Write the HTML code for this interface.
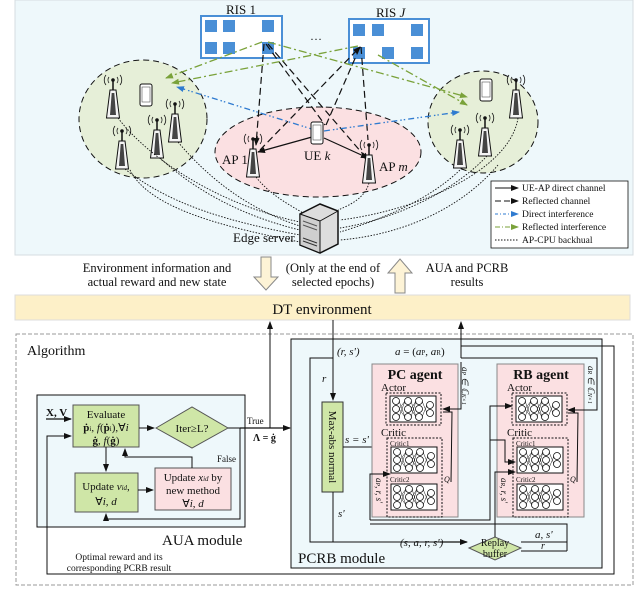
<!DOCTYPE html>
<html><head><meta charset="utf-8"><style>
html,body{margin:0;padding:0;background:#fff}
svg{display:block}
text{font-family:"Liberation Serif",serif;fill:#111}
</style></head><body>
<svg width="640" height="603" viewBox="0 0 640 603" xmlns="http://www.w3.org/2000/svg">
<defs>
<marker id="ah" markerWidth="8" markerHeight="8" refX="7" refY="4" orient="auto" markerUnits="userSpaceOnUse"><path d="M0,1 L8,4 L0,7 Z" fill="#111"/></marker>
<marker id="ab" markerWidth="8" markerHeight="8" refX="7" refY="4" orient="auto" markerUnits="userSpaceOnUse"><path d="M0,1 L8,4 L0,7 Z" fill="#2f7bd0"/></marker>
<marker id="ag" markerWidth="8" markerHeight="8" refX="7" refY="4" orient="auto" markerUnits="userSpaceOnUse"><path d="M0,1 L8,4 L0,7 Z" fill="#7aa23a"/></marker>
<g id="nn">
<rect x="0" y="0" width="46" height="26" fill="#fff" stroke="#111" stroke-width="1"/>
<g fill="#fff" stroke="#111" stroke-width="0.8">
<circle cx="6" cy="5" r="3.5"/><circle cx="6" cy="13" r="3.5"/><circle cx="6" cy="21" r="3.5"/>
<circle cx="18" cy="5" r="3.5"/><circle cx="18" cy="13" r="3.5"/><circle cx="18" cy="21" r="3.5"/>
<circle cx="29" cy="5" r="3.5"/><circle cx="29" cy="13" r="3.5"/><circle cx="29" cy="21" r="3.5"/>
<circle cx="40" cy="9" r="3.5"/><circle cx="40" cy="17" r="3.5"/>
</g>
<path d="M9,5 L15,21 M9,21 L15,5 M9,13 L15,5 M9,13 L15,21 M21,5 L26,21 M21,21 L26,5 M21,13 L26,5 M21,13 L26,21 M32,5 L37,17 M32,21 L37,9" stroke="#111" stroke-width="0.5"/>
</g>
<g id="ant">
<path d="M-6.5,0 L-3,-28 L3,-28 L6.5,0 Z" fill="#f4f4f4" stroke="#111" stroke-width="1"/>
<path d="M-3,-3 L-1.3,-25 L1.3,-25 L3,-3 Z" fill="#444"/>
<line x1="0" y1="-28" x2="0" y2="-38" stroke="#111" stroke-width="1.5"/>
<circle cx="0" cy="-38" r="1.8" fill="#111"/>
<path d="M-4,-41 A5,5 0 0 0 -4,-35 M4,-41 A5,5 0 0 1 4,-35 M-7,-43 A8,8 0 0 0 -7,-33 M7,-43 A8,8 0 0 1 7,-33" fill="none" stroke="#111" stroke-width="0.8"/>
</g>
<g id="phone">
<rect x="-6" y="-11" width="12" height="22" rx="2" fill="#fff" stroke="#111" stroke-width="1"/>
<rect x="-4" y="-8" width="8" height="15" fill="#fff" stroke="#555" stroke-width="0.6"/>
</g>
</defs>

<!-- top panel -->
<rect x="15" y="0" width="618" height="255" fill="#eef8fb" stroke="#d6dde0"/>
<ellipse cx="143" cy="119" rx="64" ry="59" fill="#e6efd8" stroke="#111" stroke-dasharray="6,4"/>
<ellipse cx="483" cy="122" rx="55" ry="51" fill="#e6efd8" stroke="#111" stroke-dasharray="6,4"/>
<ellipse cx="318" cy="152" rx="103" ry="45" fill="#fbe0e2" stroke="#111" stroke-dasharray="6,4"/>

<!-- RIS -->
<rect x="201" y="16" width="81" height="42" fill="#fff" stroke="#4a8fd6" stroke-width="2"/>
<rect x="205" y="20" width="12" height="12" fill="#4a8fd6"/><rect x="223" y="20" width="12" height="12" fill="#4a8fd6"/><rect x="262" y="20" width="12" height="12" fill="#4a8fd6"/>
<rect x="205" y="42" width="12" height="12" fill="#4a8fd6"/><rect x="223" y="42" width="12" height="12" fill="#4a8fd6"/><rect x="262" y="42" width="12" height="12" fill="#4a8fd6"/>
<text x="226" y="14" font-size="13">RIS 1</text>
<rect x="349" y="19" width="80" height="44" fill="#fff" stroke="#4a8fd6" stroke-width="2"/>
<rect x="353" y="24" width="12" height="12" fill="#4a8fd6"/><rect x="372" y="24" width="12" height="12" fill="#4a8fd6"/><rect x="411" y="24" width="12" height="12" fill="#4a8fd6"/>
<rect x="353" y="47" width="12" height="12" fill="#4a8fd6"/><rect x="382" y="47" width="12" height="12" fill="#4a8fd6"/><rect x="411" y="47" width="12" height="12" fill="#4a8fd6"/>
<text x="376" y="17" font-size="13">RIS <tspan font-style="italic">J</tspan></text>
<text x="310" y="40" font-size="12">…</text>

<!-- channels -->
<g stroke="#111" stroke-width="1.2" stroke-dasharray="7,4" fill="none">
<line x1="264" y1="44" x2="256" y2="145" marker-end="url(#ah)"/>
<line x1="266" y1="44" x2="325" y2="125"/>
<line x1="268" y1="44" x2="368" y2="160" marker-end="url(#ah)"/>
<line x1="260" y1="150" x2="360" y2="47" marker-end="url(#ah)"/>
<line x1="326" y1="125" x2="360" y2="47"/>
<line x1="361" y1="47" x2="368" y2="140"/>
</g>
<g stroke="#111" stroke-width="1.2" fill="none">
<line x1="312" y1="137" x2="258" y2="152" marker-end="url(#ah)"/>
<line x1="324" y1="138" x2="368" y2="158" marker-end="url(#ah)"/>
</g>
<g stroke="#7aa23a" stroke-width="1.3" stroke-dasharray="8,3,2,3" fill="none">
<line x1="262" y1="42" x2="166" y2="78" marker-end="url(#ag)"/>
<line x1="358" y1="46" x2="172" y2="83" marker-end="url(#ag)"/>
<line x1="268" y1="42" x2="467" y2="97" marker-end="url(#ag)"/>
<line x1="378" y1="55" x2="467" y2="105" marker-end="url(#ag)"/>
</g>
<g stroke="#2f7bd0" stroke-width="1.3" stroke-dasharray="6,3,1.5,2,1.5,3" fill="none">
<line x1="315" y1="130" x2="177" y2="87" marker-end="url(#ab)"/>
<line x1="324" y1="131" x2="459" y2="112" marker-end="url(#ab)"/>
</g>

<!-- antennas & phones -->
<use href="#ant" x="113" y="118"/><use href="#ant" x="122" y="169"/><use href="#ant" x="157" y="158"/><use href="#ant" x="175" y="142"/>
<use href="#phone" x="146" y="95"/>
<use href="#ant" x="516" y="118"/><use href="#ant" x="460" y="168"/><use href="#ant" x="485" y="156"/>
<use href="#phone" x="486" y="90"/>
<use href="#ant" x="253" y="177"/><use href="#ant" x="369" y="183"/>
<use href="#phone" x="317" y="133"/>
<text x="222" y="164" font-size="13">AP 1</text>
<text x="304" y="160" font-size="13">UE <tspan font-style="italic">k</tspan></text>
<text x="379" y="171" font-size="13">AP <tspan font-style="italic">m</tspan></text>

<!-- backhaul -->
<g stroke="#111" stroke-width="0.9" stroke-dasharray="1.5,1.5" fill="none">
<path d="M118,118 C150,160 220,205 300,222"/>
<path d="M125,169 C170,205 230,222 300,235"/>
<path d="M160,158 C200,195 250,218 300,230"/>
<path d="M178,142 C210,180 250,210 300,226"/>
<path d="M130,170 C150,210 230,228 300,242"/>
<path d="M256,177 C270,195 290,205 303,213"/>
<path d="M369,183 C365,198 350,205 338,210"/>
<path d="M518,118 C510,170 420,210 340,220"/>
<path d="M462,168 C430,200 380,220 340,232"/>
<path d="M487,156 C450,195 390,220 340,228"/>
<path d="M498,165 C460,210 400,235 340,240"/>
</g>

<!-- server -->
<g transform="translate(300,204)">
<path d="M0,10 L20,0 L38,7 L38,40 L20,49 L0,41 Z" fill="#ddd" stroke="#111" stroke-width="1.5"/>
<path d="M0,10 L20,17 L20,49 L0,41 Z" fill="#cfcfcf" stroke="#111"/>
<path d="M20,17 L38,7" stroke="#111"/>
<path d="M3,17 L17,22 M3,21 L17,26" stroke="#555"/>
<path d="M3,34 L17,39 M3,37 L17,42" stroke="#333"/>
</g>
<text x="233" y="242" font-size="13">Edge server</text>

<!-- legend -->
<rect x="491" y="181" width="137" height="67" fill="#fff" stroke="#111" stroke-width="0.8"/>
<g font-size="9.5">
<line x1="495" y1="188" x2="518" y2="188" stroke="#111" marker-end="url(#ah)"/><text x="522" y="191">UE-AP direct channel</text>
<line x1="495" y1="201" x2="518" y2="201" stroke="#111" stroke-dasharray="6,3" marker-end="url(#ah)"/><text x="522" y="204">Reflected channel</text>
<line x1="495" y1="214" x2="518" y2="214" stroke="#2f7bd0" stroke-dasharray="3,2,1,2" marker-end="url(#ab)"/><text x="522" y="217">Direct interference</text>
<line x1="495" y1="227" x2="518" y2="227" stroke="#7aa23a" stroke-dasharray="5,2,1,2" marker-end="url(#ag)"/><text x="522" y="230">Reflected interference</text>
<line x1="495" y1="240" x2="518" y2="240" stroke="#111" stroke-dasharray="1.5,1.5"/><text x="522" y="243">AP-CPU backhual</text>
</g>

<!-- middle -->
<text x="157" y="272" font-size="12.5" text-anchor="middle">Environment information and</text>
<text x="157" y="286" font-size="12.5" text-anchor="middle">actual reward and new state</text>
<path d="M261,257 L271,257 L271,277 L278,277 L266,290 L254,277 L261,277 Z" fill="#fdf3d6" stroke="#888"/>
<text x="333" y="272" font-size="12.5" text-anchor="middle">(Only at the end of</text>
<text x="333" y="286" font-size="12.5" text-anchor="middle">selected epochs)</text>
<path d="M395,293 L405,293 L405,273 L412,273 L400,259 L388,273 L395,273 Z" fill="#fdf3d6" stroke="#888"/>
<text x="467" y="272" font-size="12.5" text-anchor="middle">AUA and PCRB</text>
<text x="467" y="286" font-size="12.5" text-anchor="middle">results</text>
<rect x="15" y="295" width="615" height="25" fill="#fdf0c8" stroke="#ddd"/>
<text x="322" y="314" font-size="15" text-anchor="middle">DT environment</text>

<!-- algorithm -->
<rect x="16" y="334" width="617" height="251" fill="none" stroke="#999" stroke-dasharray="4,2"/>
<text x="27" y="355" font-size="14">Algorithm</text>

<!-- AUA -->
<rect x="37" y="395" width="208" height="132" fill="#eef8fb" stroke="#111"/>
<text x="162" y="545" font-size="15">AUA module</text>
<rect x="73" y="405" width="66" height="42" fill="#cfe6a7" stroke="#555"/>
<text x="106" y="418" font-size="11" text-anchor="middle">Evaluate</text>
<text x="106" y="431" font-size="11" text-anchor="middle"><tspan font-weight="bold">ṗ</tspan><tspan font-size="7">i</tspan>, <tspan font-style="italic">f</tspan>(<tspan font-weight="bold">ṗ</tspan><tspan font-size="7">i</tspan>),∀<tspan font-style="italic">i</tspan></text>
<text x="106" y="444" font-size="11" text-anchor="middle"><tspan font-weight="bold">ġ</tspan>, <tspan font-style="italic">f</tspan>(<tspan font-weight="bold">ġ</tspan>)</text>
<text x="46" y="416" font-size="11" font-weight="bold">X, V</text>
<line x1="46" y1="419" x2="71" y2="419" stroke="#111" stroke-width="1.2" marker-end="url(#ah)"/>
<path d="M156,428 L192,407 L228,428 L192,448 Z" fill="#cfe6a7" stroke="#555"/>
<text x="192" y="432" font-size="11" text-anchor="middle">Iter≥L?</text>
<line x1="139" y1="428" x2="154" y2="428" stroke="#111" marker-end="url(#ah)"/>
<rect x="75" y="473" width="63" height="39" fill="#cfe6a7" stroke="#555"/>
<text x="106" y="490" font-size="11" text-anchor="middle">Update <tspan font-style="italic">v</tspan><tspan font-size="7" font-style="italic">id</tspan>,</text>
<text x="106" y="505" font-size="11" text-anchor="middle">∀<tspan font-style="italic">i</tspan>, <tspan font-style="italic">d</tspan></text>
<rect x="155" y="468" width="76" height="42" fill="#fbe0e2" stroke="#555"/>
<text x="193" y="481" font-size="11" text-anchor="middle">Update <tspan font-style="italic">x</tspan><tspan font-size="7" font-style="italic">id</tspan> by</text>
<text x="193" y="494" font-size="11" text-anchor="middle">new method</text>
<text x="193" y="507" font-size="11" text-anchor="middle">∀<tspan font-style="italic">i</tspan>, <tspan font-style="italic">d</tspan></text>
<line x1="106" y1="447" x2="106" y2="471" stroke="#111" marker-end="url(#ah)"/>
<line x1="138" y1="490" x2="153" y2="490" stroke="#111" marker-end="url(#ah)"/>
<path d="M192,468 L192,457 L125,457 L125,449" fill="none" stroke="#111" marker-end="url(#ah)"/>
<path d="M228,428 L240,428 L240,519 L106,519 L106,514" fill="none" stroke="#111" marker-end="url(#ah)"/>
<text x="217" y="462" font-size="9">False</text>
<text x="247" y="424" font-size="9">True</text>
<text x="253" y="441" font-size="10" font-weight="bold">Λ = ġ</text>
<line x1="240" y1="428" x2="290" y2="428" stroke="#111" stroke-width="1.2" marker-end="url(#ah)"/>
<line x1="270" y1="428" x2="270" y2="322" stroke="#111" marker-end="url(#ah)"/>
<path d="M293,574 L47,574 L47,436 L71,436" fill="none" stroke="#111" marker-end="url(#ah)"/>
<text x="119" y="560" font-size="9.5" text-anchor="middle">Optimal reward and its</text>
<text x="119" y="571" font-size="9.5" text-anchor="middle">corresponding PCRB result</text>

<!-- PCRB -->
<rect x="291" y="339" width="311" height="229" fill="#eef8fb" stroke="#111"/>
<path d="M461,346 L614,346 L614,574 L291,574" fill="none" stroke="#111"/>
<text x="298" y="563" font-size="15">PCRB module</text>
<line x1="333" y1="320" x2="333" y2="400" stroke="#111" marker-end="url(#ah)"/>
<line x1="461" y1="358" x2="461" y2="322" stroke="#111" marker-end="url(#ah)"/>
<text x="337" y="355" font-size="11" font-style="italic">(r, s')</text>
<text x="395" y="355" font-size="11"><tspan font-style="italic">a</tspan> = (<tspan font-style="italic">a</tspan><tspan font-size="7">P</tspan>, <tspan font-style="italic">a</tspan><tspan font-size="7">R</tspan>)</text>
<text x="322" y="382" font-size="11" font-style="italic">r</text>
<path d="M333,358 L310,358 L310,542 L464,542" fill="none" stroke="#111"/>
<rect x="322" y="402" width="21" height="90" fill="#cfe6a7" stroke="#333"/>
<text transform="translate(329,447) rotate(90)" font-size="11" text-anchor="middle">Max-abs normal</text>
<line x1="333" y1="492" x2="333" y2="542" stroke="#111"/>
<text x="338" y="517" font-size="11" font-style="italic">s'</text>
<text x="345" y="443" font-size="11" font-style="italic">s = s'</text>
<path d="M343,447 L376,447" fill="none" stroke="#111"/>
<path d="M376,447 L376,410 L386,410" fill="none" stroke="#111" marker-end="url(#ah)"/>
<path d="M376,447 L376,462 L390,462" fill="none" stroke="#111" marker-end="url(#ah)"/>
<text x="400" y="546" font-size="11" font-style="italic">(s, a, r, s')</text>
<line x1="440" y1="542" x2="467" y2="542" stroke="#111" stroke-width="1.2" marker-end="url(#ah)"/>
<path d="M469,548 L495,537 L521,548 L495,560 Z" fill="#cfe6a7" stroke="#555"/>
<text x="495" y="546" font-size="10" text-anchor="middle">Replay</text>
<text x="495" y="557" font-size="10" text-anchor="middle">buffer</text>
<path d="M521,542 L567,542 L567,524 L370,524" fill="none" stroke="#111"/>
<line x1="521" y1="551" x2="567" y2="551" stroke="#111"/>
<line x1="567" y1="551" x2="567" y2="542" stroke="#111"/>
<text x="535" y="538" font-size="11" font-style="italic">a, s'</text>
<text x="541" y="549" font-size="10" font-style="italic">r</text>

<!-- PC agent -->
<rect x="372" y="364" width="86" height="153" fill="#fbe0e2" stroke="#888"/>
<text x="415" y="379" font-size="14" font-weight="bold" text-anchor="middle">PC agent</text>
<text x="381" y="391" font-size="11">Actor</text>
<rect x="386" y="393" width="55" height="32" fill="none" stroke="#111" stroke-dasharray="2,1.5"/>
<use href="#nn" x="390" y="396"/>
<text x="381" y="436" font-size="11">Critic</text>
<rect x="387" y="438" width="55" height="79" fill="none" stroke="#111" stroke-dasharray="2,1.5"/>
<text x="390" y="446" font-size="7">Critic1</text>
<use href="#nn" x="391" y="447"/>
<text x="390" y="482" font-size="7">Critic2</text>
<use href="#nn" x="391" y="484"/>
<path d="M461,362 L461,409 L443,409" fill="none" stroke="#111" marker-end="url(#ah)"/>
<path d="M451,482 L452,412 L443,412" fill="none" stroke="#111"/>
<text x="444" y="482" font-size="8" font-style="italic">Q</text>
<path d="M370,520 L370,474 L390,474" fill="none" stroke="#111" marker-end="url(#ah)"/>
<text transform="translate(376,478) rotate(90)" font-size="9" font-style="italic">a<tspan font-size="6">P</tspan>, r, s'</text>
<text transform="translate(462,367) rotate(90)" font-size="9" font-style="italic">a<tspan font-size="6">P</tspan> ∈ ℂ<tspan font-size="6">K×1</tspan></text>

<!-- RB agent -->
<rect x="497" y="364" width="87" height="153" fill="#fbe0e2" stroke="#888"/>
<text x="541" y="379" font-size="14" font-weight="bold" text-anchor="middle">RB agent</text>
<text x="507" y="391" font-size="11">Actor</text>
<rect x="512" y="393" width="55" height="32" fill="none" stroke="#111" stroke-dasharray="2,1.5"/>
<use href="#nn" x="516" y="396"/>
<text x="507" y="436" font-size="11">Critic</text>
<rect x="513" y="438" width="55" height="79" fill="none" stroke="#111" stroke-dasharray="2,1.5"/>
<text x="516" y="446" font-size="7">Critic1</text>
<use href="#nn" x="517" y="447"/>
<text x="516" y="482" font-size="7">Critic2</text>
<use href="#nn" x="517" y="484"/>
<path d="M461,358 L597,358 L597,410 L568,410" fill="none" stroke="#111" marker-end="url(#ah)"/>
<path d="M577,482 L578,413 L568,413" fill="none" stroke="#111"/>
<text x="570" y="482" font-size="8" font-style="italic">Q</text>
<path d="M495,537 L495,472 L515,472" fill="none" stroke="#111" marker-end="url(#ah)"/>
<path d="M370,520 L490,520 L490,440 L505,440 L505,462 L515,462" fill="none" stroke="#111" marker-end="url(#ah)"/>
<path d="M490,440 L490,406 L512,406" fill="none" stroke="#111" marker-end="url(#ah)"/>
<text transform="translate(501,478) rotate(90)" font-size="9" font-style="italic">a<tspan font-size="6">R</tspan>, r, s'</text>
<text transform="translate(588,366) rotate(90)" font-size="9" font-style="italic">a<tspan font-size="6">R</tspan> ∈ ℂ<tspan font-size="6">N×1</tspan></text>
</svg>
</body></html>
